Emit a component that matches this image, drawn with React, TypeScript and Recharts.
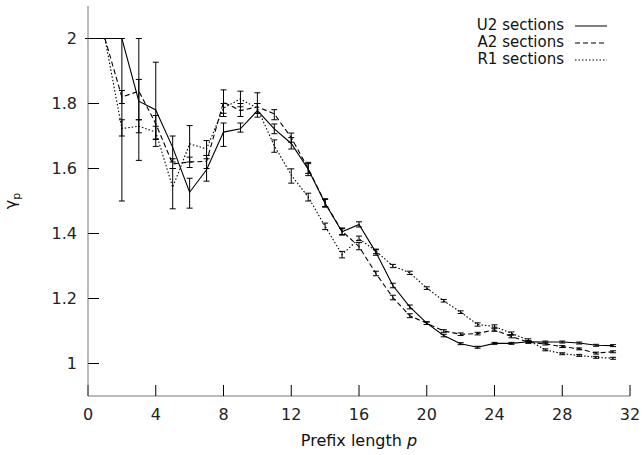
import React from "react";
import { ErrorBar, Legend, Line, LineChart, XAxis, YAxis } from "recharts";

const FONT = "'DejaVu Sans', sans-serif";
const BORDER = "#777";

// prefix length p
const prefix = [
  0, 1, 2, 3, 4, 5, 6, 7, 8, 9, 10, 11, 12, 13, 14, 15, 16, 17, 18, 19, 20,
  21, 22, 23, 24, 25, 26, 27, 28, 29, 30, 31,
];

// U2 sections
const u2 = [
  2, 2, 2, 1.807, 1.78, 1.665, 1.527, 1.596, 1.712, 1.722, 1.778, 1.722, 1.677,
  1.598, 1.493, 1.405, 1.428, 1.342, 1.24, 1.174, 1.124, 1.086, 1.061, 1.05,
  1.062, 1.062, 1.067, 1.066, 1.066, 1.063, 1.056, 1.055,
];
const u2Lo = [
  2, 2, 1.5, 1.625, 1.668, 1.62, 1.478, 1.561, 1.668, 1.712, 1.758, 1.707, 1.66,
  1.578, 1.481, 1.395, 1.42, 1.333, 1.233, 1.168, 1.12, 1.082, 1.058, 1.047,
  1.059, 1.059, 1.064, 1.063, 1.063, 1.06, 1.053, 1.052,
];
const u2Hi = [
  2, 2, 2, 2, 1.927, 1.7, 1.57, 1.63, 1.74, 1.74, 1.8, 1.737, 1.695, 1.619,
  1.507, 1.415, 1.436, 1.35, 1.247, 1.18, 1.128, 1.09, 1.064, 1.053, 1.065,
  1.065, 1.07, 1.069, 1.069, 1.066, 1.059, 1.058,
];

// A2 sections
const a2 = [
  null, 2, 1.82, 1.838, 1.738, 1.614, 1.62, 1.622, 1.804, 1.778, 1.79, 1.768,
  1.695, 1.6, 1.494, 1.407, 1.36, 1.277, 1.203, 1.147, 1.124, 1.1, 1.09, 1.092,
  1.104, 1.083, 1.066, 1.06, 1.052, 1.045, 1.032, 1.036,
];
const a2Lo = [
  null, 2, 1.8, 1.75, 1.69, 1.6, 1.603, 1.6, 1.77, 1.76, 1.77, 1.75, 1.681,
  1.585, 1.483, 1.397, 1.35, 1.27, 1.196, 1.141, 1.12, 1.096, 1.086, 1.088,
  1.099, 1.079, 1.062, 1.057, 1.049, 1.042, 1.029, 1.033,
];
const a2Hi = [
  null, 2, 1.84, 1.874, 1.763, 1.63, 1.635, 1.64, 1.842, 1.8, 1.833, 1.781,
  1.709, 1.615, 1.505, 1.417, 1.372, 1.284, 1.21, 1.153, 1.128, 1.104, 1.094,
  1.096, 1.109, 1.087, 1.07, 1.063, 1.055, 1.048, 1.035, 1.039,
];

// R1 sections
const r1 = [
  null, 2, 1.723, 1.73, 1.712, 1.542, 1.676, 1.66, 1.786, 1.814, 1.785, 1.67,
  1.58, 1.512, 1.422, 1.335, 1.384, 1.346, 1.3, 1.279, 1.232, 1.193, 1.158,
  1.12, 1.114, 1.093, 1.072, 1.042, 1.03, 1.025, 1.019, 1.016,
];
const r1Lo = [
  null, 2, 1.7, 1.71, 1.69, 1.476, 1.62, 1.64, 1.76, 1.79, 1.77, 1.65, 1.555,
  1.5, 1.412, 1.325, 1.378, 1.338, 1.295, 1.274, 1.228, 1.189, 1.154, 1.115,
  1.109, 1.089, 1.068, 1.039, 1.027, 1.022, 1.016, 1.013,
];
const r1Hi = [
  null, 2, 1.75, 1.75, 1.73, 1.6, 1.732, 1.686, 1.8, 1.838, 1.8, 1.688, 1.599,
  1.524, 1.432, 1.345, 1.392, 1.352, 1.305, 1.284, 1.236, 1.197, 1.162, 1.125,
  1.119, 1.097, 1.076, 1.045, 1.033, 1.028, 1.022, 1.019,
];

const xTicks = [0, 4, 8, 12, 16, 20, 24, 28, 32];
const yTicks = [1, 1.2, 1.4, 1.6, 1.8, 2];

type Row = { p: number; v: number; lo: number; hi: number };

function rows(vals: (number | null)[], lo: (number | null)[], hi: (number | null)[]): Row[] {
  return prefix.flatMap((p, i) =>
    vals[i] == null ? [] : [{ p, v: vals[i] as number, lo: lo[i] as number, hi: hi[i] as number }],
  );
}

const series = [
  { name: "U2 sections", data: rows(u2, u2Lo, u2Hi), dash: undefined as string | undefined },
  { name: "A2 sections", data: rows(a2, a2Lo, a2Hi), dash: "5 3" },
  { name: "R1 sections", data: rows(r1, r1Lo, r1Hi), dash: "1.5 2" },
];

const errRange = (d: Row) => [d.v - d.lo, d.hi - d.v];

// keep the plotting order (U2, A2, R1) instead of the legend's sorted payload
function LegendBox() {
  return (
    <div style={{ fontFamily: FONT, fontSize: 15, color: "#111" }}>
      {series.map((s) => (
        <div
          key={s.name}
          style={{
            display: "flex",
            alignItems: "center",
            justifyContent: "flex-end",
            height: 17,
            lineHeight: "17px",
            overflow: "hidden",
          }}
        >
          <span>{s.name}</span>
          <svg width={32} height={10} style={{ marginLeft: 11 }}>
            <line x1={0} x2={32} y1={5} y2={5} stroke="#000" strokeWidth={1} strokeDasharray={s.dash} />
          </svg>
        </div>
      ))}
    </div>
  );
}

export default function App() {
  const tickStyle = { fontFamily: FONT, fontSize: 16, fill: "#222" };
  return (
    <div style={{ position: "absolute", left: 0, top: 0, background: "#fff" }}>
      <LineChart
        width={644}
        height={455}
        margin={{ top: 6, right: 14, bottom: 0, left: 0 }}
      >
        <XAxis
          xAxisId="b"
          dataKey="p"
          type="number"
          domain={[0, 32]}
          ticks={xTicks}
          height={59}
          tickSize={-11}
          tickMargin={24}
          tick={tickStyle}
          tickLine={{ stroke: "#000" }}
          axisLine={{ stroke: BORDER }}
          allowDataOverflow
          label={{
            content: ({ viewBox }: any) => (
              <text
                x={viewBox.x + viewBox.width / 2}
                y={viewBox.y + 50}
                textAnchor="middle"
                fontFamily={FONT}
                fontSize={16}
                fill="#111"
              >
                Prefix length <tspan fontStyle="italic">p</tspan>
              </text>
            ),
          }}
        />
        <XAxis
          xAxisId="t"
          orientation="top"
          dataKey="p"
          type="number"
          domain={[0, 32]}
          ticks={xTicks}
          height={0}
          tickSize={-11}
          tick={false}
          tickLine={{ stroke: "#000" }}
          axisLine={{ stroke: BORDER }}
          allowDataOverflow
        />
        <YAxis
          yAxisId="l"
          type="number"
          domain={[0.9, 2.1]}
          ticks={yTicks}
          width={88}
          tickSize={-11}
          tickMargin={22}
          tick={tickStyle}
          tickLine={{ stroke: "#000" }}
          axisLine={{ stroke: BORDER }}
          allowDataOverflow
          label={{
            content: ({ viewBox }: any) => {
              const x = viewBox.x + 16;
              const y = viewBox.y + viewBox.height / 2;
              return (
                <text
                  x={x}
                  y={y}
                  transform={`rotate(-90, ${x}, ${y})`}
                  textAnchor="middle"
                  fontFamily={FONT}
                  fontSize={16}
                  fill="#111"
                >
                  γ<tspan fontSize={11} dy={4}>p</tspan>
                </text>
              );
            },
          }}
        />
        <YAxis
          yAxisId="r"
          orientation="right"
          type="number"
          domain={[0.9, 2.1]}
          ticks={yTicks}
          width={0}
          tickSize={-11}
          tick={false}
          tickLine={{ stroke: "#000" }}
          axisLine={{ stroke: BORDER }}
          allowDataOverflow
        />
        <Legend
          layout="vertical"
          align="center"
          verticalAlign="middle"
          wrapperStyle={{ top: 17, left: 440, width: 167 }}
          content={<LegendBox />}
        />
        {series.map((s) => (
          <Line
            key={s.name}
            xAxisId="b"
            yAxisId="l"
            data={s.data}
            dataKey="v"
            name={s.name}
            type="linear"
            stroke="#000"
            strokeWidth={1.1}
            strokeDasharray={s.dash}
            dot={false}
            activeDot={false}
            isAnimationActive={false}
          >
            <ErrorBar
              dataKey={errRange as any}
              direction="y"
              width={3}
              stroke="#000"
              strokeWidth={1}
              isAnimationActive={false}
            />
          </Line>
        ))}
      </LineChart>
    </div>
  );
}
